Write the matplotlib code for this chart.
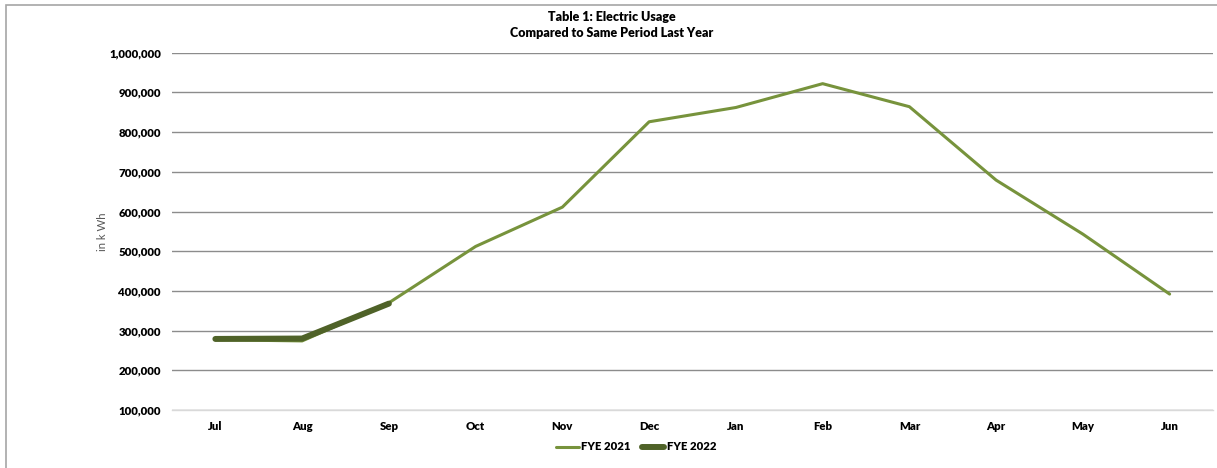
import matplotlib
matplotlib.use("Agg")
import matplotlib.pyplot as plt
from matplotlib.patches import Rectangle
from matplotlib.ticker import FuncFormatter

plt.rcParams['font.family'] = ['Lato', 'DejaVu Sans']

months = ['Jul', 'Aug', 'Sep', 'Oct', 'Nov', 'Dec', 'Jan', 'Feb', 'Mar', 'Apr', 'May', 'Jun']
fye2021 = [277000, 274000, 370000, 512000, 611000, 826000, 862000, 922000, 864000, 679000, 543000, 392000]
fye2022 = [279000, 280000, 368000]

fig = plt.figure(figsize=(12.17, 4.68), dpi=100)
ax = fig.add_axes([172 / 1217, 1 - 410 / 468, 1041 / 1217, 357.3 / 468])

# chart frame (runs off bottom/right like the original crop)
fig.patches.append(Rectangle((6 / 1217, -0.05), 1.1, 1 - 5.5 / 468 + 0.05,
                             transform=fig.transFigure, fill=False,
                             edgecolor='#a6a6a6', linewidth=1.2))

x = list(range(len(months)))
ax.plot(x, fye2021, color='#77933c', linewidth=2.2, label='FYE 2021',
        solid_capstyle='round', zorder=3)
ax.plot(x[:len(fye2022)], fye2022, color='#4f6228', linewidth=4.3, label='FYE 2022',
        solid_capstyle='round', zorder=4)

ax.set_xlim(-0.5, len(months) - 0.5)
ax.set_ylim(100000, 1000000)
ax.set_yticks(range(100000, 1000001, 100000))
ax.yaxis.set_major_formatter(FuncFormatter(lambda v, p: '{:,.0f}'.format(v)))
ax.set_xticks(x)
ax.set_xticklabels(months)

ax.grid(axis='y', color='#8c8c8c', linewidth=1.0, zorder=0)
ax.set_axisbelow(True)
for s in ['top', 'right', 'left']:
    ax.spines[s].set_visible(False)
ax.spines['bottom'].set_color('#d9d9d9')
ax.spines['bottom'].set_linewidth(1.0)
ax.tick_params(length=0, labelsize=8.2, pad=8)
ax.tick_params(axis='x', pad=8)
for lab in ax.get_xticklabels() + ax.get_yticklabels():
    lab.set_fontweight('heavy')

fig.text(103 / 1217, 1 - 232 / 468, 'in k Wh', rotation=90, ha='center', va='center',
         fontsize=8.2, color='#595959')

fig.text(612 / 1217, 1 - 17 / 468, 'Table 1: Electric Usage', ha='center', va='center',
         fontsize=9, fontweight='heavy')
fig.text(612 / 1217, 1 - 33 / 468, 'Compared to Same Period Last Year', ha='center', va='center',
         fontsize=9, fontweight='heavy')

leg = fig.legend(loc='center', bbox_to_anchor=(636 / 1217, 1 - 447 / 468), ncol=2,
                 frameon=False, handlelength=2.0, handletextpad=0.2, columnspacing=1.0,
                 prop={'size': 8.2, 'weight': 'heavy'})

fig.savefig('out.png', dpi=100)
